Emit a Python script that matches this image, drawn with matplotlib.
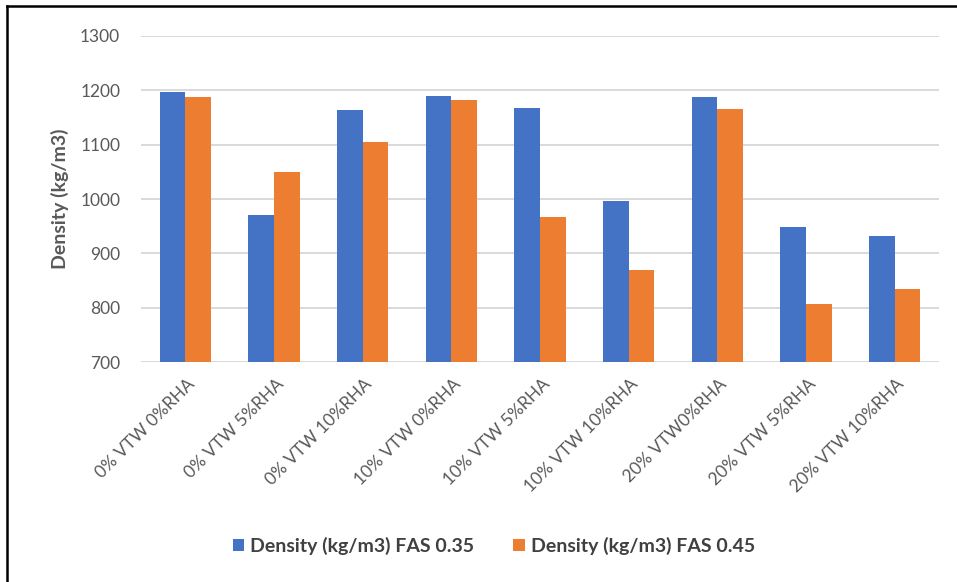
import numpy as np
import matplotlib.pyplot as plt
from matplotlib.lines import Line2D
from matplotlib.transforms import ScaledTranslation

# Mix labels and measured densities for the two FAS ratios
mixes = ['0% VTW 0%RHA', '0% VTW 5%RHA', '0% VTW 10%RHA',
         '10% VTW 0%RHA', '10% VTW 5%RHA', '10% VTW 10%RHA',
         '20% VTW0%RHA', '20% VTW 5%RHA', '20% VTW 10%RHA']
density_fas035 = [1197, 970, 1163, 1190, 1168, 997, 1187, 949, 931]
density_fas045 = [1187, 1050, 1104, 1182, 966, 869, 1165, 806, 834]
y_ticks = [700, 800, 900, 1000, 1100, 1200, 1300]

plt.rcParams['font.family'] = ['Lato', 'DejaVu Sans']
grey = '#595959'

fig = plt.figure(figsize=(9.57, 5.82), dpi=100)
ax = fig.add_axes([141 / 957, 1 - 362 / 582, 798 / 957, 326 / 582])

x = np.arange(len(mixes))
w = 0.29
ax.bar(x - w / 2, density_fas035, w, color='#4472C4', label='Density (kg/m3) FAS 0.35', zorder=3)
ax.bar(x + w / 2, density_fas045, w, color='#ED7D31', label='Density (kg/m3) FAS 0.45', zorder=3)

ax.set_xlim(-0.5, len(mixes) - 0.5)
ax.set_ylim(700, 1300)
ax.set_yticks(y_ticks)
ax.yaxis.grid(True, color='#d9d9d9', linewidth=1.4, zorder=0)
for s in ax.spines.values():
    s.set_visible(False)
ax.tick_params(axis='both', length=0, colors=grey, labelsize=12.5)
ax.tick_params(axis='y', pad=15)
ax.set_xticks(x)
ax.set_xticklabels(mixes, rotation=45, ha='right', va='center', rotation_mode='anchor',
                   fontsize=12.5)
ax.tick_params(axis='x', pad=14)
# nudge the slanted labels so they end right under the group centre
shift = ScaledTranslation(7 / 100, 0, fig.dpi_scale_trans)
for lbl in ax.get_xticklabels():
    lbl.set_transform(lbl.get_transform() + shift)
ax.set_ylabel('Density (kg/m3)', fontsize=14, fontweight='bold', color=grey, labelpad=8)

fig.legend(loc='center', bbox_to_anchor=(0.516, 0.062), ncol=2, frameon=False,
           handlelength=0.6, handleheight=0.6, handletextpad=0.3, columnspacing=2.0,
           prop={'size': 14, 'weight': 'bold'}, labelcolor='#404040')

# frame lines along the top and left edge
fig.add_artist(Line2D([7 / 957, 1], [1 - 6 / 582, 1 - 6 / 582], color='black', linewidth=1.8))
fig.add_artist(Line2D([7 / 957, 7 / 957], [0, 1 - 6 / 582], color='black', linewidth=1.8))

fig.savefig('out.png', dpi=100)
